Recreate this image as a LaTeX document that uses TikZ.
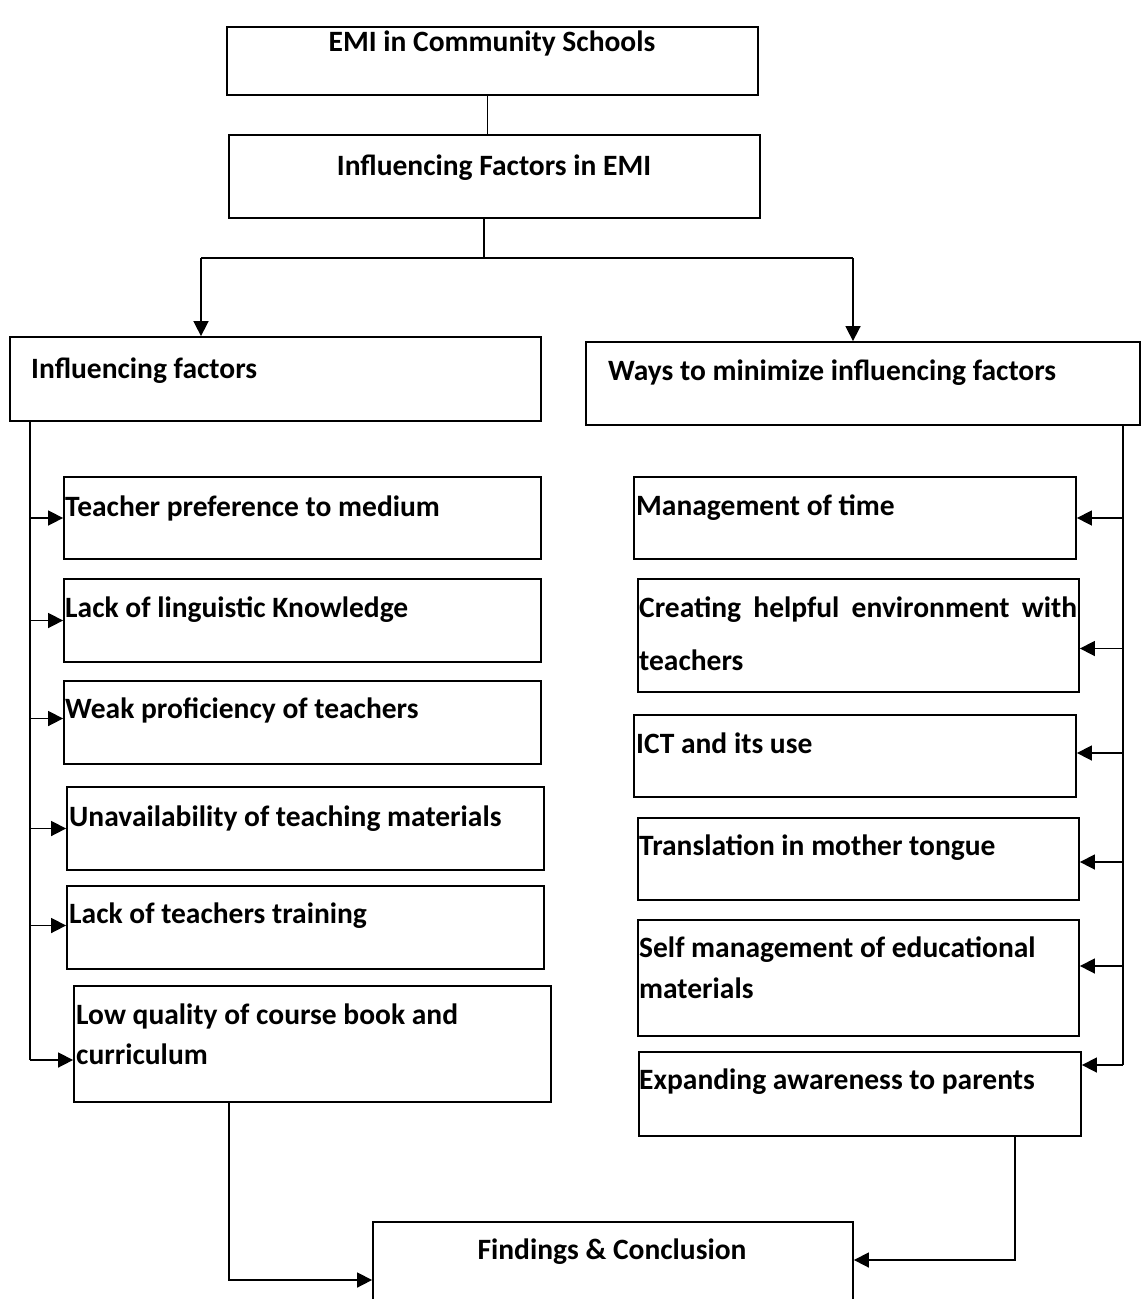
\documentclass[tikz,border=0pt]{standalone}
\usepackage{fontspec}
\setmainfont{Carlito}
\usetikzlibrary{arrows.meta,calc}
\begin{document}
\begin{tikzpicture}[x=1pt,y=-1pt,
  box/.style={draw, line width=1.8pt, inner sep=0pt},
  lbl/.style={inner sep=0pt, font=\fontsize{29.5}{35}\selectfont\bfseries},
  conn/.style={line width=1.6pt},
  arr/.style={line width=1.6pt, -{Triangle[length=15pt,width=15pt]}}]
\useasboundingbox (0,0) rectangle (1141,1299);
% boxes
\node[box, minimum width=531pt, minimum height=68pt] (A) at (492.5,61) {};
\node[box, minimum width=531pt, minimum height=83pt] (B) at (494.5,176.5) {};
\node[box, minimum width=531pt, minimum height=84pt] (C) at (275.5,379) {};
\node[box, minimum width=554pt, minimum height=83pt] (D) at (863,383.5) {};
\node[box, minimum width=477pt, minimum height=82pt] (L1) at (302.5,518) {};
\node[box, minimum width=477pt, minimum height=83pt] (L2) at (302.5,620.5) {};
\node[box, minimum width=477pt, minimum height=83pt] (L3) at (302.5,722.5) {};
\node[box, minimum width=477pt, minimum height=83pt] (L4) at (305.5,828.5) {};
\node[box, minimum width=477pt, minimum height=83pt] (L5) at (305.5,927.5) {};
\node[box, minimum width=477pt, minimum height=116pt] (L6) at (312.5,1044) {};
\node[box, minimum width=442pt, minimum height=82pt] (R1) at (855,518) {};
\node[box, minimum width=441pt, minimum height=113pt] (R2) at (858.5,635.5) {};
\node[box, minimum width=442pt, minimum height=82pt] (R3) at (855,756) {};
\node[box, minimum width=441pt, minimum height=82pt] (R4) at (858.5,859) {};
\node[box, minimum width=441pt, minimum height=116pt] (R5) at (858.5,978) {};
\node[box, minimum width=442pt, minimum height=84pt] (R6) at (860,1094) {};
\node[box, minimum width=480pt, minimum height=116pt] (F) at (613,1280) {};
% labels
\node[lbl, anchor=base] (tA) at (492,51) {EMI in Community Schools};
\node[lbl, anchor=base] (tB) at (494,175) {Influencing Factors in EMI};
\node[lbl, anchor=base west] (tC) at (31,378) {Influencing factors};
\node[lbl, anchor=base west] (tD) at (608,380) {Ways to minimize influencing factors};
\node[lbl, anchor=base west] (tL1) at (65,516) {Teacher preference to medium};
\node[lbl, anchor=base west] (tL2) at (65,617) {Lack of linguistic Knowledge};
\node[lbl, anchor=base west] (tL3) at (65,718) {Weak proficiency of teachers};
\node[lbl, anchor=base west] (tL4) at (69,826) {Unavailability of teaching materials};
\node[lbl, anchor=base west] (tL5) at (69,923) {Lack of teachers training};
\node[lbl, anchor=base west] (tL6a) at (76,1024) {Low quality of course book and};
\node[lbl, anchor=base west] (tL6b) at (76,1064) {curriculum};
\node[lbl, anchor=base west] (tR1) at (636,515) {Management of time};
\node[lbl, anchor=base west] (tR2a) at (639,617) {\makebox[438pt][s]{Creating helpful environment with}};
\node[lbl, anchor=base west] (tR2b) at (639,670) {teachers};
\node[lbl, anchor=base west] (tR3) at (636,753) {ICT and its use};
\node[lbl, anchor=base west] (tR4) at (639,855) {Translation in mother tongue};
\node[lbl, anchor=base west] (tR5a) at (639,957) {Self management of educational};
\node[lbl, anchor=base west] (tR5b) at (639,998) {materials};
\node[lbl, anchor=base west] (tR6) at (639,1089) {Expanding awareness to parents};
\node[lbl, anchor=base] (tF) at (612,1259) {Findings \& Conclusion};
% top connectors
\draw[line width=1pt] ([xshift=-5pt]A.south) -- ([xshift=-5pt]A.south |- B.north);
\coordinate (split) at (484,258);
\coordinate (cl) at (201,258);
\coordinate (cr) at (853,258);
\draw[conn] (split |- B.south) -- (split);
\draw[conn] (cl) -- (cr);
\draw[arr] (cl) -- (cl |- C.north);
\draw[arr] (cr) -- (cr |- D.north);
% left trunk
\coordinate (lt) at (30,421);
\coordinate (lb) at (30,1060);
\draw[conn] (lt) -- (lb);
\draw[arr] (L1.west -| lt) -- (L1.west);
\draw[arr] (L2.west -| lt) -- (L2.west);
\draw[arr] ([yshift=4pt]L3.west -| lt) -- ([yshift=4pt]L3.west);
\draw[arr] (L4.west -| lt) -- (L4.west);
\draw[arr] ([yshift=2pt]L5.west -| lt) -- ([yshift=2pt]L5.west);
\draw[arr] (lb) -- (lb -| L6.west);
% right trunk
\coordinate (rt) at (1123,425);
\coordinate (rb) at (1123,1065);
\draw[conn] (rt) -- (rb);
\draw[arr] (R1.east -| rt) -- (R1.east);
\draw[arr] ([yshift=-13pt]R2.east -| rt) -- ([yshift=-13pt]R2.east);
\draw[arr] ([yshift=3pt]R3.east -| rt) -- ([yshift=3pt]R3.east);
\draw[arr] ([yshift=-3pt]R4.east -| rt) -- ([yshift=-3pt]R4.east);
\draw[arr] ([yshift=12pt]R5.east -| rt) -- ([yshift=12pt]R5.east);
\draw[arr] (rb) -- (rb -| R6.east);
% bottom connectors
\coordinate (bl) at (229,1280);
\draw[arr] (bl |- L6.south) -- (bl) -- (F.west);
\coordinate (br) at (1015,1260);
\draw[arr] (br |- R6.south) -- (br) -- (br -| F.east);
\end{tikzpicture}
\end{document}
